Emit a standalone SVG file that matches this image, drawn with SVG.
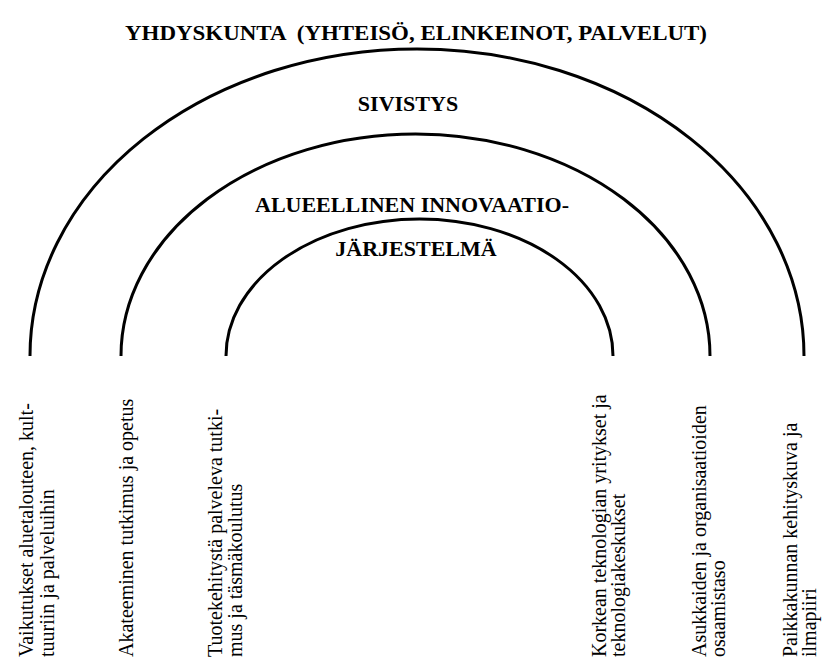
<svg xmlns="http://www.w3.org/2000/svg" width="824" height="662" viewBox="0 0 824 662">
<style>
.arch{fill:none;stroke:#000;stroke-width:3}
.title{font-weight:bold;font-size:22px;fill:#000;text-anchor:middle}
.lbl{font-size:20px;fill:#000}
</style>
<rect width="824" height="662" fill="#fff"/>
<g id="connectors">
<path id="arch-outer" class="arch" d="M30,356 A387,307 0 0 1 804,356"/>
<path id="arch-middle" class="arch" d="M121,356 A294.5,222 0 0 1 710,356"/>
<path id="arch-inner" class="arch" d="M226,356 A193.5,137 0 0 1 613,356"/>
</g>
<g font-family="Liberation Serif, Times New Roman, Times, DejaVu Serif, serif">
<g id="node-yhdyskunta"><text class="title" x="416" y="40" textLength="582" lengthAdjust="spacingAndGlyphs" xml:space="preserve">YHDYSKUNTA  (YHTEISÖ, ELINKEINOT, PALVELUT)</text></g>
<g id="node-sivistys"><text class="title" x="408" y="111">SIVISTYS</text></g>
<g id="node-innovaatio"><text class="title" x="412" y="212">ALUEELLINEN INNOVAATIO-</text><text class="title" x="416" y="256">JÄRJESTELMÄ</text></g>
<g id="label-1" transform="translate(0,657) rotate(-90)"><text class="lbl" x="0" y="33">Vaikutukset aluetalouteen, kult-</text><text class="lbl" x="0" y="54">tuuriin ja palveluihin</text></g>
<g id="label-2" transform="translate(0,657) rotate(-90)"><text class="lbl" x="0" y="133">Akateeminen tutkimus ja opetus</text></g>
<g id="label-3" transform="translate(0,657) rotate(-90)"><text class="lbl" x="0" y="222">Tuotekehitystä palveleva tutki-</text><text class="lbl" x="0" y="242">mus ja täsmäkoulutus</text></g>
<g id="label-4" transform="translate(0,657) rotate(-90)"><text class="lbl" x="0" y="606">Korkean teknologian yritykset ja</text><text class="lbl" x="0" y="625">teknologiakeskukset</text></g>
<g id="label-5" transform="translate(0,657) rotate(-90)"><text class="lbl" x="0" y="706">Asukkaiden ja organisaatioiden</text><text class="lbl" x="0" y="725">osaamistaso</text></g>
<g id="label-6" transform="translate(0,657) rotate(-90)"><text class="lbl" x="0" y="797">Paikkakunnan kehityskuva ja</text><text class="lbl" x="0" y="816">ilmapiiri</text></g>
</g>
</svg>
